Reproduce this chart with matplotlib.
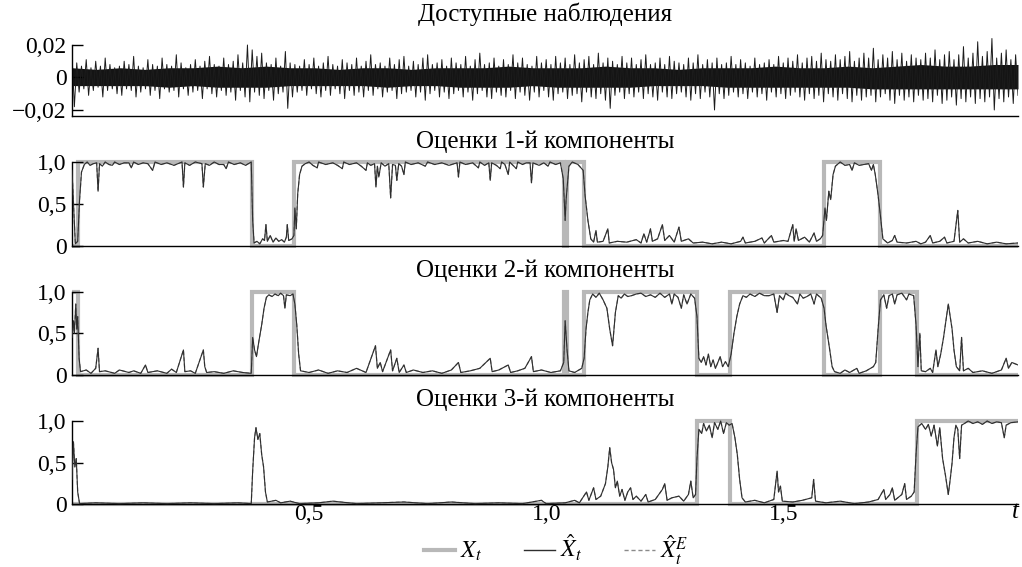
import numpy as np
import matplotlib
matplotlib.use("Agg")
import matplotlib.pyplot as plt
from matplotlib.lines import Line2D

plt.rcParams['font.family'] = ['Liberation Serif', 'DejaVu Serif']
plt.rcParams['mathtext.fontset'] = 'stix'

# --- observations, units of 1e-3 ---
# dense core of the signal (upper / lower edge along t)
obs_core_hi = [6, 5, 6, 5, 6, 6, 7, 6, 7, 6, 6, 5, 6, 6, 5, 6, 6, 6, 7, 6,
               6, 6, 7, 6, 6, 5, 6, 6, 6, 7, 6, 6, 7, 6, 7, 8, 7, 7, 8, 8]
obs_core_lo = [5, 5, 5, 5, 6, 5, 6, 6, 6, 5, 5, 5, 5, 6, 5, 5, 6, 6, 6, 5,
               6, 6, 6, 6, 5, 5, 5, 6, 6, 6, 6, 6, 6, 7, 7, 7, 7, 7, 7, 7]
# individual upward / downward excursions
obs_upper = [14, 9, 7, 11, 6, 10, 7, 12, 8, 6, 7, 10, 8, 13, 7, 6, 11, 8, 7, 12,
             8, 7, 14, 9, 6, 8, 11, 7, 10, 13, 8, 7, 12, 8, 10, 14, 9, 20, 17, 13,
             15, 9, 8, 12, 7, 16, 9, 8, 7, 11, 8, 12, 7, 9, 13, 8, 7, 11, 9, 8,
             12, 7, 10, 14, 8, 9, 7, 12, 8, 11, 13, 7, 10, 8, 12, 14, 8, 9, 11, 7,
             12, 9, 8, 13, 7, 11, 15, 8, 9, 12, 7, 11, 8, 14, 9, 12, 8, 7, 13, 9,
             11, 8, 13, 9, 12, 8, 14, 9, 11, 13, 8, 15, 9, 12, 10, 8, 13, 9, 12, 8,
             11, 14, 8, 9, 12, 8, 13, 10, 9, 8, 12, 9, 14, 8, 11, 9, 12, 8, 9, 13,
             8, 11, 9, 7, 12, 8, 9, 11, 8, 13, 9, 12, 10, 14, 9, 12, 13, 10, 15, 11,
             10, 14, 11, 13, 16, 10, 12, 15, 12, 18, 11, 14, 12, 16, 11, 15, 10, 14, 12, 11,
             15, 12, 17, 11, 14, 16, 11, 14, 19, 12, 15, 22, 13, 16, 24, 12, 15, 17, 11, 14]
obs_lower = [18, 9, 7, 11, 8, 6, 12, 8, 7, 10, 11, 7, 8, 12, 9, 7, 11, 8, 13, 7,
             9, 8, 12, 7, 11, 9, 8, 13, 7, 10, 12, 8, 11, 9, 14, 8, 12, 15, 9, 11,
             13, 8, 14, 10, 9, 19, 12, 9, 8, 11, 7, 10, 12, 8, 11, 7, 10, 13, 8, 11,
             9, 12, 8, 11, 7, 12, 9, 8, 13, 10, 9, 8, 12, 9, 14, 10, 8, 12, 9, 13,
             10, 8, 12, 9, 14, 10, 8, 12, 13, 9, 11, 12, 8, 13, 9, 11, 14, 9, 12, 8,
             12, 14, 10, 9, 13, 11, 10, 15, 9, 12, 13, 10, 14, 19, 11, 9, 13, 10, 12, 9,
             13, 10, 12, 14, 9, 12, 13, 10, 9, 12, 14, 10, 13, 9, 12, 20, 10, 13, 11, 9,
             12, 10, 13, 9, 12, 10, 14, 9, 12, 10, 13, 11, 9, 12, 14, 10, 13, 11, 15, 10,
             12, 14, 10, 13, 15, 11, 14, 12, 11, 15, 12, 10, 14, 16, 11, 14, 12, 15, 11, 14,
             13, 15, 11, 16, 14, 12, 17, 13, 15, 12, 16, 13, 15, 12, 20, 13, 15, 12, 16, 11]

# --- true regime X_t: switch times and active component ---
switch_t = [0.0, 0.013, 0.380, 0.468, 1.038, 1.044, 1.080, 1.318, 1.388, 1.586, 1.704, 1.782]
regime = [2, 1, 2, 1, 2, 1, 2, 3, 2, 1, 2, 3]
t_end = 1.995

# --- filter estimates (t, value) for each component ---
est1 = [(0.000, 0.90), (0.004, 0.40), (0.007, 0.02), (0.012, 0.05), (0.016, 0.55), (0.020, 0.88),
        (0.026, 0.97), (0.032, 1.00), (0.038, 0.96), (0.045, 0.98), (0.052, 0.99), (0.055, 0.65),
        (0.058, 0.98), (0.064, 0.95), (0.070, 1.00), (0.078, 0.97), (0.085, 0.96), (0.090, 1.00),
        (0.100, 0.97), (0.110, 0.99), (0.120, 0.99), (0.125, 0.93), (0.130, 1.00), (0.140, 0.97),
        (0.150, 0.99), (0.160, 0.98), (0.170, 0.90), (0.175, 1.00), (0.188, 0.97), (0.200, 0.99),
        (0.215, 0.96), (0.232, 1.00), (0.235, 0.70), (0.238, 0.99), (0.248, 0.96), (0.260, 1.00),
        (0.274, 0.98), (0.277, 0.70), (0.281, 0.98), (0.290, 0.96), (0.300, 1.00), (0.310, 0.97),
        (0.320, 0.97), (0.325, 0.92), (0.330, 1.00), (0.342, 0.97), (0.355, 0.99), (0.366, 0.96),
        (0.378, 1.00),
        (0.381, 0.30), (0.384, 0.03), (0.390, 0.05), (0.396, 0.02), (0.402, 0.08), (0.406, 0.06),
        (0.409, 0.25), (0.412, 0.05), (0.418, 0.12), (0.424, 0.04), (0.430, 0.09), (0.436, 0.05),
        (0.442, 0.07), (0.448, 0.04), (0.452, 0.10), (0.454, 0.25), (0.457, 0.06), (0.464, 0.08),
        (0.468, 0.12), (0.470, 0.45), (0.473, 0.20), (0.476, 0.62), (0.480, 0.85), (0.485, 0.95),
        (0.492, 0.98), (0.500, 1.00), (0.508, 0.96), (0.517, 0.93), (0.520, 1.00), (0.535, 0.97),
        (0.550, 0.99), (0.560, 0.96), (0.570, 0.92), (0.573, 1.00), (0.585, 0.97), (0.600, 0.99),
        (0.610, 0.95), (0.620, 0.90), (0.623, 0.99), (0.630, 0.96), (0.638, 0.98), (0.641, 0.70),
        (0.644, 0.95), (0.647, 0.82), (0.652, 0.99), (0.660, 0.95), (0.668, 0.98), (0.672, 0.57),
        (0.676, 0.97), (0.682, 0.96), (0.685, 0.78), (0.689, 0.98), (0.695, 0.95), (0.700, 0.85),
        (0.703, 1.00), (0.715, 0.97), (0.730, 0.99), (0.745, 0.95), (0.750, 1.00), (0.765, 0.97),
        (0.780, 0.99), (0.795, 0.96), (0.812, 0.99), (0.815, 0.82), (0.818, 1.00), (0.830, 0.97),
        (0.845, 0.99), (0.857, 0.93), (0.860, 1.00), (0.870, 0.96), (0.879, 0.99), (0.882, 0.78),
        (0.885, 0.99), (0.895, 0.96), (0.903, 0.92), (0.906, 1.00), (0.913, 0.97), (0.920, 0.85),
        (0.923, 1.00), (0.930, 0.96), (0.937, 0.92), (0.940, 1.00), (0.950, 0.97), (0.958, 0.99),
        (0.966, 0.99), (0.969, 0.75), (0.972, 0.99), (0.985, 0.96), (0.995, 0.99), (1.004, 0.95),
        (1.008, 1.00), (1.020, 0.97), (1.030, 0.99),
        (1.036, 0.80), (1.040, 0.30), (1.042, 0.55), (1.048, 0.95), (1.055, 1.00), (1.067, 0.97),
        (1.078, 0.90), (1.082, 0.60), (1.088, 0.30), (1.094, 0.08),
        (1.100, 0.04), (1.105, 0.18), (1.108, 0.04), (1.120, 0.05), (1.130, 0.20), (1.133, 0.03),
        (1.150, 0.05), (1.170, 0.04), (1.190, 0.07), (1.200, 0.03), (1.206, 0.14), (1.212, 0.04),
        (1.220, 0.20), (1.224, 0.05), (1.235, 0.08), (1.245, 0.25), (1.250, 0.06), (1.260, 0.12),
        (1.270, 0.04), (1.280, 0.22), (1.285, 0.05), (1.300, 0.08), (1.310, 0.03), (1.330, 0.04),
        (1.350, 0.02), (1.370, 0.04), (1.390, 0.02), (1.410, 0.05), (1.415, 0.10), (1.420, 0.03),
        (1.440, 0.05), (1.455, 0.09), (1.460, 0.03), (1.475, 0.12), (1.480, 0.04), (1.500, 0.06),
        (1.510, 0.05), (1.520, 0.25), (1.523, 0.05), (1.527, 0.20), (1.532, 0.06), (1.545, 0.10),
        (1.555, 0.04), (1.565, 0.15), (1.570, 0.05), (1.578, 0.08),
        (1.583, 0.12), (1.588, 0.45), (1.591, 0.30), (1.596, 0.65), (1.600, 0.55), (1.605, 0.85),
        (1.610, 0.95), (1.620, 1.00), (1.630, 0.96), (1.640, 0.97), (1.645, 0.90), (1.650, 0.99),
        (1.660, 0.96), (1.670, 0.97), (1.680, 0.98), (1.686, 0.90), (1.690, 0.97), (1.694, 0.85),
        (1.700, 0.60), (1.705, 0.35), (1.710, 0.08), (1.720, 0.03), (1.730, 0.06), (1.735, 0.12),
        (1.740, 0.04), (1.760, 0.03), (1.780, 0.05), (1.790, 0.02), (1.800, 0.04), (1.810, 0.12),
        (1.815, 0.03), (1.830, 0.05), (1.840, 0.10), (1.845, 0.03), (1.860, 0.05), (1.868, 0.42),
        (1.872, 0.04), (1.880, 0.08), (1.890, 0.03), (1.910, 0.05), (1.930, 0.02), (1.950, 0.04),
        (1.970, 0.02), (1.995, 0.03)]

est2 = [(0.000, 0.45), (0.003, 0.65), (0.005, 0.50), (0.008, 0.85), (0.010, 0.55), (0.012, 0.70),
        (0.015, 0.20), (0.018, 0.04), (0.030, 0.06), (0.040, 0.02), (0.050, 0.08), (0.055, 0.32),
        (0.058, 0.04), (0.070, 0.05), (0.090, 0.02), (0.100, 0.06), (0.120, 0.03), (0.130, 0.05),
        (0.145, 0.02), (0.155, 0.12), (0.160, 0.03), (0.180, 0.05), (0.200, 0.02), (0.210, 0.07),
        (0.220, 0.03), (0.235, 0.30), (0.238, 0.04), (0.250, 0.05), (0.260, 0.02), (0.277, 0.30),
        (0.280, 0.10), (0.284, 0.03), (0.300, 0.04), (0.320, 0.02), (0.340, 0.05), (0.360, 0.03),
        (0.378, 0.02), (0.381, 0.45), (0.385, 0.30), (0.389, 0.22), (0.394, 0.40), (0.400, 0.60),
        (0.405, 0.80), (0.410, 0.93), (0.415, 0.96), (0.422, 0.94), (0.428, 0.97), (0.435, 0.95),
        (0.440, 0.98), (0.446, 0.95), (0.449, 0.80), (0.452, 0.96), (0.460, 0.95), (0.466, 0.97),
        (0.470, 0.85), (0.474, 0.60), (0.478, 0.25), (0.482, 0.05), (0.500, 0.03), (0.520, 0.06),
        (0.540, 0.02), (0.560, 0.05), (0.580, 0.03), (0.600, 0.08), (0.620, 0.03), (0.640, 0.35),
        (0.644, 0.08), (0.650, 0.15), (0.655, 0.04), (0.672, 0.30), (0.676, 0.05), (0.685, 0.20),
        (0.690, 0.03), (0.700, 0.12), (0.705, 0.03), (0.720, 0.06), (0.740, 0.03), (0.760, 0.05),
        (0.780, 0.02), (0.800, 0.06), (0.815, 0.15), (0.820, 0.03), (0.840, 0.05), (0.860, 0.08),
        (0.882, 0.20), (0.886, 0.04), (0.900, 0.06), (0.920, 0.12), (0.925, 0.03), (0.940, 0.05),
        (0.955, 0.08), (0.969, 0.22), (0.973, 0.04), (0.990, 0.06), (1.010, 0.03), (1.030, 0.05),
        (1.037, 0.15), (1.040, 0.65), (1.044, 0.30), (1.048, 0.05), (1.060, 0.03), (1.075, 0.08),
        (1.080, 0.20), (1.084, 0.55), (1.088, 0.75), (1.092, 0.90), (1.098, 0.97), (1.105, 0.93),
        (1.112, 0.98), (1.120, 0.90), (1.128, 0.80), (1.134, 0.55), (1.140, 0.35), (1.146, 0.75),
        (1.152, 0.95), (1.158, 0.92), (1.165, 0.97), (1.172, 0.94), (1.180, 0.95), (1.190, 0.97),
        (1.200, 0.98), (1.210, 0.94), (1.220, 0.96), (1.230, 0.93), (1.240, 0.98), (1.250, 0.93),
        (1.260, 0.97), (1.265, 0.85), (1.270, 0.97), (1.278, 0.93), (1.285, 0.80), (1.290, 0.96),
        (1.297, 0.85), (1.305, 0.97), (1.313, 0.92), (1.318, 0.70), (1.322, 0.20), (1.327, 0.15),
        (1.332, 0.22), (1.337, 0.12), (1.342, 0.25), (1.347, 0.10), (1.352, 0.18), (1.357, 0.08),
        (1.362, 0.15), (1.367, 0.22), (1.372, 0.10), (1.378, 0.16), (1.384, 0.10), (1.390, 0.25),
        (1.396, 0.50), (1.402, 0.70), (1.408, 0.85), (1.415, 0.95), (1.422, 0.93), (1.430, 0.97),
        (1.440, 0.94), (1.450, 0.98), (1.460, 0.95), (1.470, 0.95), (1.480, 0.97), (1.487, 0.75),
        (1.492, 0.95), (1.500, 0.90), (1.505, 0.98), (1.512, 0.95), (1.520, 0.93), (1.530, 0.85),
        (1.535, 0.97), (1.542, 0.92), (1.550, 0.94), (1.558, 0.97), (1.565, 0.85), (1.570, 0.97),
        (1.580, 0.92), (1.586, 0.80), (1.590, 0.60), (1.594, 0.45), (1.598, 0.30), (1.603, 0.10),
        (1.608, 0.04), (1.620, 0.02), (1.630, 0.06), (1.640, 0.03), (1.655, 0.08), (1.660, 0.02),
        (1.675, 0.05), (1.690, 0.10), (1.695, 0.15), (1.700, 0.55), (1.705, 0.90), (1.712, 0.96),
        (1.718, 0.80), (1.723, 0.95), (1.730, 0.97), (1.735, 0.85), (1.740, 0.96), (1.750, 0.98),
        (1.760, 0.90), (1.765, 0.97), (1.775, 0.95), (1.780, 0.60), (1.784, 0.10), (1.788, 0.50),
        (1.791, 0.05), (1.800, 0.04), (1.810, 0.08), (1.815, 0.03), (1.822, 0.30), (1.826, 0.10),
        (1.832, 0.25), (1.838, 0.45), (1.843, 0.65), (1.848, 0.85), (1.852, 0.70), (1.856, 0.55),
        (1.860, 0.30), (1.865, 0.10), (1.872, 0.05), (1.876, 0.45), (1.880, 0.05), (1.890, 0.08),
        (1.900, 0.03), (1.920, 0.05), (1.940, 0.02), (1.960, 0.06), (1.970, 0.20), (1.975, 0.08),
        (1.982, 0.15), (1.995, 0.12)]

est3 = [(0.000, 0.30), (0.003, 0.75), (0.006, 0.45), (0.009, 0.55), (0.012, 0.15), (0.016, 0.01),
        (0.050, 0.02), (0.100, 0.01), (0.150, 0.02), (0.200, 0.01), (0.250, 0.02), (0.300, 0.01),
        (0.350, 0.02), (0.378, 0.01), (0.381, 0.40), (0.385, 0.80), (0.388, 0.92), (0.392, 0.78),
        (0.396, 0.85), (0.400, 0.60), (0.404, 0.45), (0.408, 0.15), (0.412, 0.03), (0.430, 0.05),
        (0.440, 0.02), (0.460, 0.04), (0.480, 0.01), (0.520, 0.02), (0.550, 0.04), (0.600, 0.01),
        (0.650, 0.02), (0.700, 0.03), (0.750, 0.01), (0.800, 0.03), (0.850, 0.01), (0.900, 0.02),
        (0.950, 0.01), (0.990, 0.05), (1.000, 0.01), (1.040, 0.02), (1.060, 0.05), (1.070, 0.02),
        (1.085, 0.15), (1.090, 0.05), (1.100, 0.20), (1.105, 0.06), (1.115, 0.10), (1.125, 0.25),
        (1.130, 0.45), (1.134, 0.68), (1.138, 0.50), (1.142, 0.42), (1.146, 0.20), (1.150, 0.28),
        (1.155, 0.10), (1.160, 0.18), (1.166, 0.05), (1.172, 0.15), (1.178, 0.20), (1.183, 0.06),
        (1.190, 0.10), (1.200, 0.04), (1.210, 0.12), (1.215, 0.03), (1.230, 0.06), (1.245, 0.18),
        (1.250, 0.25), (1.255, 0.05), (1.265, 0.08), (1.280, 0.10), (1.290, 0.04), (1.300, 0.12),
        (1.305, 0.28), (1.310, 0.08), (1.315, 0.12), (1.318, 0.55), (1.322, 0.90), (1.328, 0.85),
        (1.332, 0.97), (1.338, 0.88), (1.344, 0.95), (1.350, 0.80), (1.355, 0.98), (1.362, 0.90),
        (1.368, 1.00), (1.374, 0.85), (1.380, 0.98), (1.386, 0.95), (1.392, 0.97), (1.398, 0.80),
        (1.403, 0.60), (1.408, 0.30), (1.413, 0.08), (1.420, 0.03), (1.440, 0.05), (1.460, 0.02),
        (1.480, 0.06), (1.484, 0.25), (1.487, 0.40), (1.490, 0.15), (1.494, 0.22), (1.498, 0.04),
        (1.520, 0.03), (1.540, 0.05), (1.560, 0.08), (1.564, 0.30), (1.568, 0.04), (1.590, 0.02),
        (1.620, 0.04), (1.650, 0.01), (1.680, 0.03), (1.700, 0.06), (1.712, 0.18), (1.716, 0.06),
        (1.725, 0.12), (1.730, 0.20), (1.735, 0.05), (1.750, 0.12), (1.756, 0.25), (1.760, 0.06),
        (1.770, 0.10), (1.776, 0.15), (1.780, 0.60), (1.784, 0.93), (1.792, 0.97), (1.800, 0.90),
        (1.806, 0.96), (1.812, 0.82), (1.818, 0.95), (1.825, 0.70), (1.830, 0.92), (1.836, 0.55),
        (1.842, 0.35), (1.848, 0.12), (1.852, 0.30), (1.856, 0.50), (1.860, 0.80), (1.864, 0.95),
        (1.868, 0.90), (1.872, 0.55), (1.876, 0.95), (1.882, 0.97), (1.890, 1.00), (1.900, 0.97),
        (1.910, 0.99), (1.920, 0.96), (1.930, 1.00), (1.940, 0.97), (1.950, 0.99), (1.960, 0.98),
        (1.966, 0.80), (1.970, 0.95), (1.980, 0.98), (1.995, 0.99)]

titles = ['Доступные наблюдения', 'Оценки 1-й компоненты',
          'Оценки 2-й компоненты', 'Оценки 3-й компоненты']
x_ticks = [0.5, 1.0, 1.5]
x_ticklabels = ['0,5', '1,0', '1,5']

W, H = 1022, 567
FS_TICK = 17
FS_TITLE = 18
GRAY = '#b8b8b8'
DARK = '#2e2e2e'
DASH = '#8a8a8a'

fig = plt.figure(figsize=(W / 100, H / 100), dpi=100)


def add_panel(top, bottom):
    left, right = 72, 1018
    return fig.add_axes([left / W, 1 - bottom / H, (right - left) / W, (bottom - top) / H])


def style(ax):
    for s in ['top', 'right']:
        ax.spines[s].set_visible(False)
    ax.spines['left'].set_linewidth(1.0)
    ax.spines['bottom'].set_linewidth(1.0)
    ax.set_xlim(0, t_end)
    ax.tick_params(axis='y', direction='in', length=8, width=1, labelsize=FS_TICK, pad=4)
    ax.tick_params(axis='x', length=0, labelbottom=False)
    ax.set_facecolor('none')


# observations panel: solid core plus the zigzag of the excursions
ax0 = add_panel(32, 116)
style(ax0)
ax0.set_ylim(-0.0237, 0.028)
ax0.spines['left'].set_bounds(-0.0237, 0.02)
t_core = np.linspace(0, t_end, len(obs_core_hi))
ax0.fill_between(t_core, -np.array(obs_core_lo) * 1e-3, np.array(obs_core_hi) * 1e-3,
                 color='#141414', lw=0)
n = len(obs_upper)
t_obs = np.linspace(0, t_end, 2 * n)
y_obs = np.empty(2 * n)
y_obs[0::2] = np.array(obs_upper) * 1e-3
y_obs[1::2] = -np.array(obs_lower) * 1e-3
ax0.plot(t_obs, y_obs, color='#1c1c1c', lw=0.7)
ax0.set_yticks([-0.02, 0, 0.02])
ax0.set_yticklabels(['\u22120,02', '0', '0,02'])

# estimate panels
unit = 83.5
zeros = [245.5, 375.0, 504.5]
estimates = [est1, est2, est3]
t_steps = np.append(switch_t, t_end)
axes = []
for k, (z, est) in enumerate(zip(zeros, estimates), start=1):
    ax = add_panel(z - 1.08 * unit, z + 0.03 * unit)
    style(ax)
    ax.set_ylim(-0.03, 1.08)
    ax.spines['bottom'].set_position(('data', 0))
    ax.spines['left'].set_bounds(0, 1)
    ind = [1.0 if r == k else 0.0 for r in regime]
    ax.step(t_steps, ind + [ind[-1]], where='post', color=GRAY, lw=3.0,
            solid_joinstyle='miter', zorder=1)
    te, ve = zip(*est)
    # the two filters coincide to within line width on this scale
    ax.plot(te, ve, color=DASH, lw=0.9, ls=(0, (3, 2)), zorder=2)
    ax.plot(te, ve, color=DARK, lw=0.8, zorder=3)
    ax.set_yticks([0, 0.5, 1.0])
    ax.set_yticklabels(['0', '0,5', '1,0'])
    axes.append(ax)

axes[-1].set_xticks(x_ticks)
axes[-1].set_xticklabels(x_ticklabels)
axes[-1].tick_params(axis='x', labelbottom=True, labelsize=FS_TICK, pad=0)
fig.text(1015 / W, 1 - 512 / H, 't', fontsize=FS_TICK + 1, style='italic',
         ha='center', va='center')

for title, y in zip(titles, [14, 142, 271, 400]):
    fig.text(545 / W, 1 - y / H, title, fontsize=FS_TITLE, ha='center', va='center')

handles = [Line2D([], [], color=GRAY, lw=3),
           Line2D([], [], color=DARK, lw=1),
           Line2D([], [], color=DASH, lw=1, ls=(0, (3, 2)))]
labels = [r'$X_t$', r'$\hat{X}_t$', r'$\hat{X}^E_t$']
fig.legend(handles, labels, loc='center', bbox_to_anchor=(556 / W, 1 - 550 / H),
           ncol=3, frameon=False, fontsize=FS_TICK, handlelength=1.3, handletextpad=0.2,
           columnspacing=1.8)

fig.savefig('out.png', dpi=100)
